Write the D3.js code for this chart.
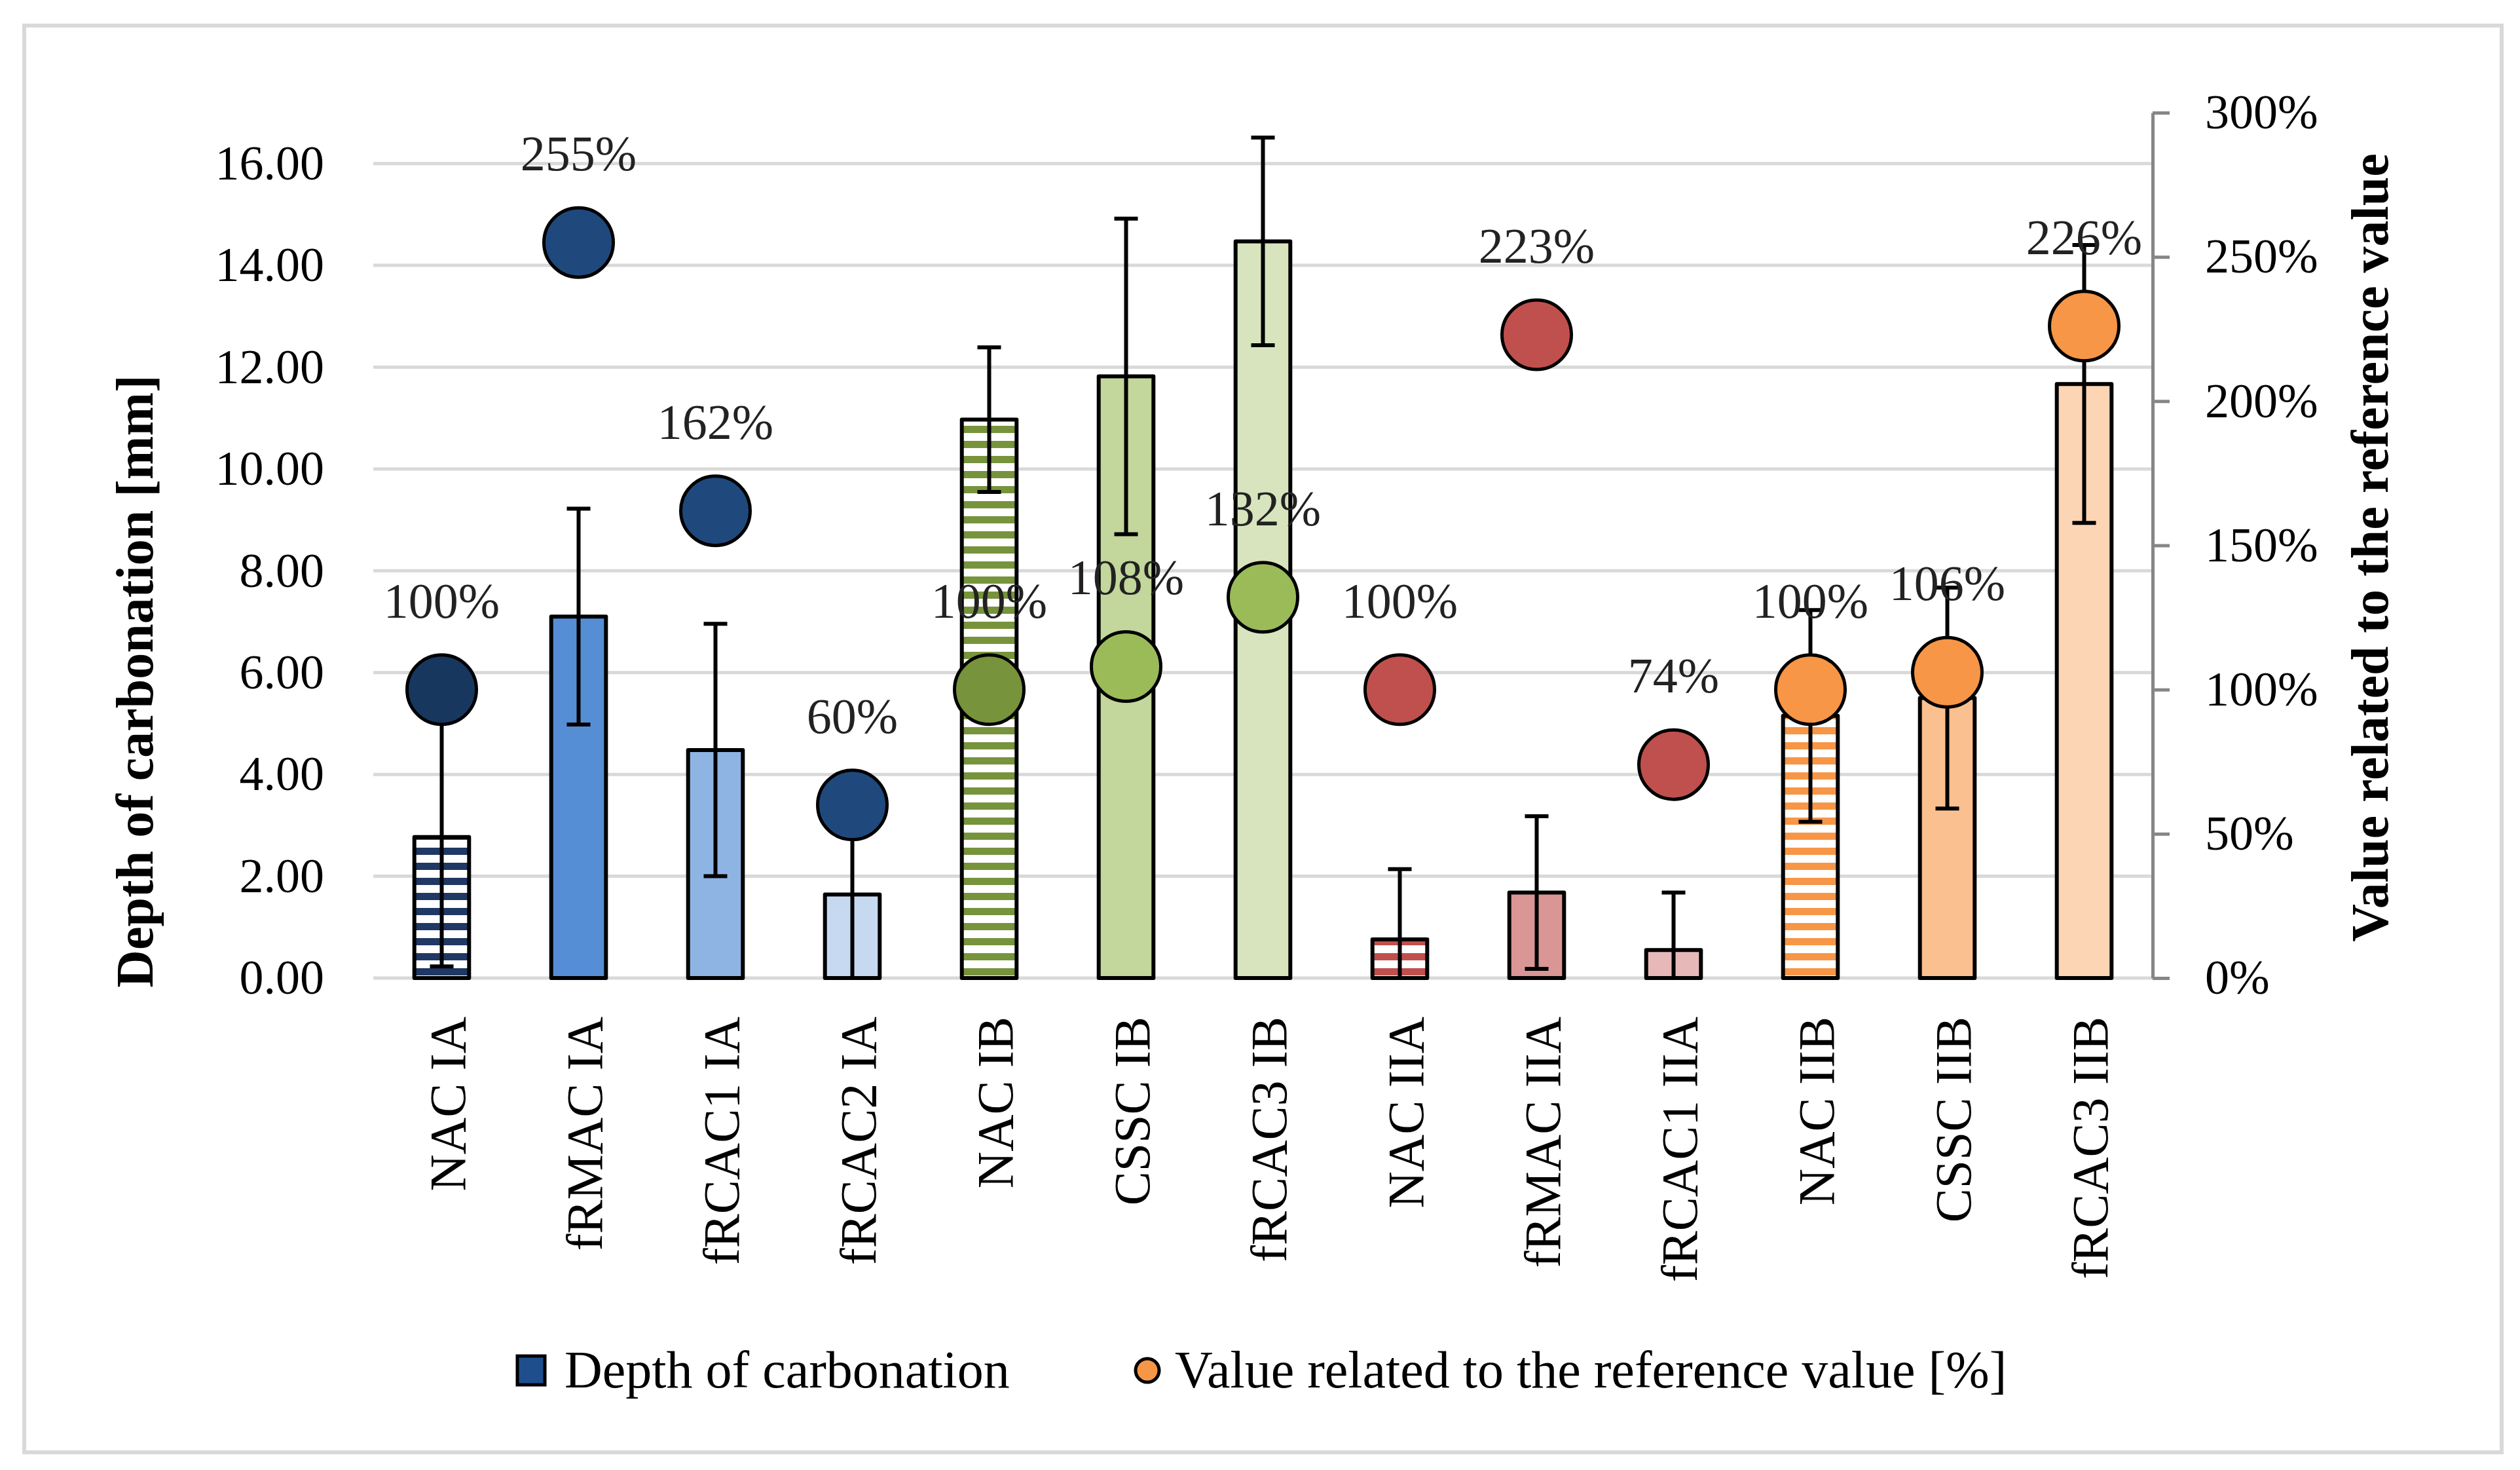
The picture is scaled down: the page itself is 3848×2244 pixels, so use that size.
<!DOCTYPE html>
<html>
<head>
<meta charset="utf-8">
<script src="https://cdn.jsdelivr.net/npm/d3@7"></script>
<style>
  body { margin: 0; background: #fff; }
  text { font-family: "Liberation Serif", "DejaVu Serif", serif; fill: #000; }
</style>
</head>
<body>
<svg id="chart" width="3848" height="2244"></svg>
<script>
// categories along the x axis
var categories = ['NAC IA', 'fRMAC IA', 'fRCAC1 IA', 'fRCAC2 IA', 'NAC IB', 'CSSC IB', 'fRCAC3 IB',
  'NAC IIA', 'fRMAC IIA', 'fRCAC1 IIA', 'NAC IIB', 'CSSC IIB', 'fRCAC3 IIB'];
// depth of carbonation [mm] and its error (+/-)
var depthMm = [2.77, 7.10, 4.48, 1.64, 10.97, 11.82, 14.47, 0.76, 1.68, 0.55, 5.15, 5.50, 11.67];
var depthErr = [2.54, 2.12, 2.48, 1.70, 1.42, 3.10, 2.04, 1.38, 1.50, 1.13, 2.08, 2.17, 2.73];
// value related to the reference value [%]
var relPct = [100, 255, 162, 60, 100, 108, 132, 100, 223, 74, 100, 106, 226];
var leftTicks = [0, 2, 4, 6, 8, 10, 12, 14, 16];
var rightTicks = [0, 50, 100, 150, 200, 250, 300];

(function () {
  'use strict';
  // fills: pattern ids for the reference (NAC) bars
  var barFill = ['url(#stripeBlue)', '#558ED5', '#8EB4E3', '#C6D9F1',
    'url(#stripeGreen)', '#C3D69B', '#D7E4BD',
    'url(#stripeRed)', '#D99694', '#E6B9B8',
    'url(#stripeOrange)', '#FAC090', '#FCD5B5'];
  var dotFill = ['#17375E', '#1F497D', '#1F497D', '#1F497D',
    '#77933C', '#9BBB59', '#9BBB59',
    '#C0504D', '#C0504D', '#C0504D',
    '#F79646', '#F79646', '#F79646'];

  var svg = d3.select('#chart');
  var plotLeft = 570, plotRight = 3287, plotTop = 172, plotBottom = 1493;

  var x = d3.scaleBand().domain(categories).range([plotLeft, plotRight]).paddingInner(0.6).paddingOuter(0.3);
  var yL = d3.scaleLinear().domain([0, 17]).range([plotBottom, plotTop]);
  var yR = d3.scaleLinear().domain([0, 300]).range([plotBottom, plotTop]);
  var cx = function (d) { return x(d) + x.bandwidth() / 2; };

  var defs = svg.append('defs');
  [['stripeBlue', '#1F3864'], ['stripeGreen', '#77933C'], ['stripeRed', '#C0504D'], ['stripeOrange', '#F79646']].forEach(function (p) {
    var pat = defs.append('pattern')
      .attr('id', p[0])
      .attr('patternUnits', 'userSpaceOnUse')
      .attr('width', 40).attr('height', 23);
    pat.append('rect').attr('width', 40).attr('height', 23).attr('fill', '#fff');
    pat.append('rect').attr('y', 6).attr('width', 40).attr('height', 11).attr('fill', p[1]);
  });
  defs.append('clipPath').attr('id', 'plotClip')
    .append('rect').attr('x', plotLeft).attr('y', plotTop - 20)
    .attr('width', plotRight - plotLeft).attr('height', plotBottom - plotTop + 20);

  // outer frame
  svg.append('rect')
    .attr('x', 37).attr('y', 39).attr('width', 3783).attr('height', 2178)
    .attr('fill', '#fff').attr('stroke', '#d9d9d9').attr('stroke-width', 6);

  // gridlines
  svg.append('g').selectAll('line').data(leftTicks).join('line')
    .attr('x1', plotLeft).attr('x2', plotRight)
    .attr('y1', function (d) { return yL(d); }).attr('y2', function (d) { return yL(d); })
    .attr('stroke', '#d9d9d9').attr('stroke-width', 5);

  // left tick labels
  var gLeft = svg.append('g').attr('transform', 'translate(' + plotLeft + ',0)')
    .call(d3.axisLeft(yL).tickValues(leftTicks).tickSize(0).tickPadding(75).tickFormat(d3.format('.2f')));
  gLeft.select('.domain').remove();
  gLeft.selectAll('text').style('font-size', '74px').attr('font-family', null);

  // right axis
  var gRight = svg.append('g').attr('transform', 'translate(' + plotRight + ',0)')
    .call(d3.axisRight(yR).tickValues(rightTicks).tickSize(26).tickSizeOuter(0).tickPadding(54)
      .tickFormat(function (d) { return d + '%'; }));
  gRight.select('.domain').attr('stroke', '#868686').attr('stroke-width', 5);
  gRight.selectAll('.tick line').attr('stroke', '#868686').attr('stroke-width', 5);
  gRight.selectAll('text').style('font-size', '74px').attr('font-family', null);

  // bars
  svg.append('g').selectAll('rect').data(categories).join('rect')
    .attr('x', function (d) { return x(d); })
    .attr('y', function (d, i) { return yL(depthMm[i]); })
    .attr('width', x.bandwidth())
    .attr('height', function (d, i) { return yL(0) - yL(depthMm[i]); })
    .attr('fill', function (d, i) { return barFill[i]; })
    .attr('stroke', '#000').attr('stroke-width', 6).attr('stroke-linejoin', 'round');

  // error bars
  var gErr = svg.append('g').attr('clip-path', 'url(#plotClip)')
    .attr('stroke', '#000').attr('stroke-width', 6);
  gErr.selectAll('line.v').data(categories).join('line').attr('class', 'v')
    .attr('x1', cx).attr('x2', cx)
    .attr('y1', function (d, i) { return yL(depthMm[i] + depthErr[i]); })
    .attr('y2', function (d, i) { return yL(depthMm[i] - depthErr[i]); });
  gErr.selectAll('line.top').data(categories).join('line').attr('class', 'top')
    .attr('x1', function (d) { return cx(d) - 18; }).attr('x2', function (d) { return cx(d) + 18; })
    .attr('y1', function (d, i) { return yL(depthMm[i] + depthErr[i]); })
    .attr('y2', function (d, i) { return yL(depthMm[i] + depthErr[i]); });
  gErr.selectAll('line.bot').data(categories).join('line').attr('class', 'bot')
    .attr('x1', function (d) { return cx(d) - 18; }).attr('x2', function (d) { return cx(d) + 18; })
    .attr('y1', function (d, i) { return yL(depthMm[i] - depthErr[i]); })
    .attr('y2', function (d, i) { return yL(depthMm[i] - depthErr[i]); });

  // percentage markers
  svg.append('g').selectAll('circle').data(categories).join('circle')
    .attr('cx', cx)
    .attr('cy', function (d, i) { return yR(relPct[i]); })
    .attr('r', 53)
    .attr('fill', function (d, i) { return dotFill[i]; })
    .attr('stroke', '#000').attr('stroke-width', 5);

  svg.append('g').selectAll('text').data(categories).join('text')
    .attr('x', cx)
    .attr('y', function (d, i) { return yR(relPct[i]) - 110; })
    .attr('text-anchor', 'middle')
    .style('font-size', '76px')
    .style('fill', '#222')
    .text(function (d, i) { return relPct[i] + '%'; });

  // category labels
  svg.append('g').selectAll('text').data(categories).join('text')
    .attr('transform', function (d) { return 'translate(' + (cx(d) + 8) + ',1552) rotate(-90)'; })
    .attr('text-anchor', 'end')
    .attr('dy', '0.35em')
    .style('font-size', '78px')
    .text(function (d) { return d; });

  // axis titles
  svg.append('text')
    .attr('transform', 'translate(205,1040) rotate(-90)')
    .attr('text-anchor', 'middle').attr('dy', '0.35em')
    .style('font-size', '80px').style('font-weight', 'bold')
    .text('Depth of carbonation [mm]');
  svg.append('text')
    .attr('transform', 'translate(3618,836) rotate(-90)')
    .attr('text-anchor', 'middle').attr('dy', '0.35em')
    .style('font-size', '80px').style('font-weight', 'bold')
    .text('Value related to the reference value');

  // legend
  var lg = svg.append('g');
  lg.append('rect').attr('x', 790).attr('y', 2070).attr('width', 42).attr('height', 44)
    .attr('fill', '#1F4E8C').attr('stroke', '#000').attr('stroke-width', 5);
  lg.append('text').attr('x', 862).attr('y', 2118).style('font-size', '80px').text('Depth of carbonation');
  lg.append('circle').attr('cx', 1752).attr('cy', 2092).attr('r', 18)
    .attr('fill', '#F79646').attr('stroke', '#000').attr('stroke-width', 5);
  lg.append('text').attr('x', 1794).attr('y', 2118).style('font-size', '80px').text('Value related to the reference value [%]');
})();
</script>
</body>
</html>
